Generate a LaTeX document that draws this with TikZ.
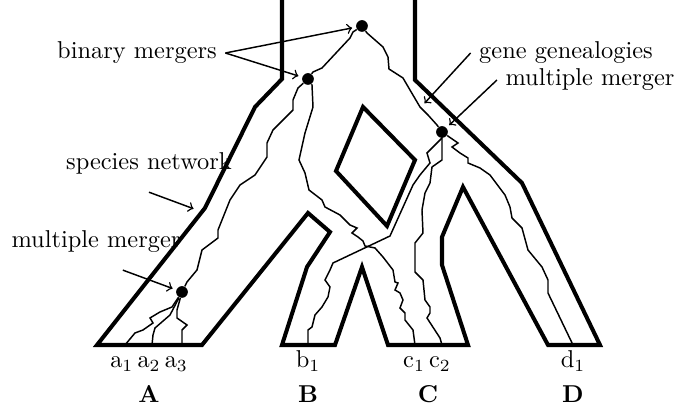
\documentclass[tikz,border=0pt]{standalone}
\usetikzlibrary{positioning}
\begin{document}
\begin{tikzpicture}[x=0.41pt,y=-0.41pt,
    species/.style={line width=1.65pt},
    gene/.style={line width=0.6pt},
    note/.style={->,line width=0.6pt,shorten >=1.5pt},
    merger/.style={circle,fill,inner sep=0pt,minimum size=4.8pt}]
  \useasboundingbox (0,0) rectangle (677,410);

  % species network
  \draw[species] (282,0) -- (282,79) -- (255,107) -- (205,208) -- (97,345) -- (202,345)
    -- (308,213) -- (330,232) -- (307,267) -- (282,345) -- (335,345) -- (362,267)
    -- (388,345) -- (468,345) -- (442,265) -- (442,237) -- (463,187) -- (548,345)
    -- (600,345) -- (522,183) -- (415,80) -- (415,0);
  \draw[species] (363,107) -- (415,160) -- (387,226) -- (336,171) -- cycle;

  % mergers and tips
  \node[merger] (root) at (362,26) {};
  \node[merger] (bin) at (308,79) {};
  \node[merger] (mmA) at (182,292) {};
  \node[merger] (mmC) at (442,132) {};
  \coordinate (a1) at (125,345);
  \coordinate (a2) at (152,345);
  \coordinate (a3) at (182,345);
  \coordinate (b1) at (308,345);
  \coordinate (c1) at (415,345);
  \coordinate (c2) at (442,345);
  \coordinate (d1) at (573,345);

  % gene genealogies
  \draw[gene] (root) -- (353,32) -- (350,38) -- (322,68) -- (313,72) -- (bin);
  \draw[gene] (root) -- (367,33) -- (383,47) -- (388,57) -- (389,69) -- (403,78)
    -- (410,90) -- (420,107) -- (428,115) -- (437,125) -- (mmC);
  \draw[gene] (bin) -- (298,88) -- (293,100) -- (293,110) -- (273,130) -- (267,143)
    -- (267,157) -- (255,175) -- (240,185) -- (230,200) -- (218,230) -- (218,238)
    -- (202,250) -- (197,270) -- (187,282) -- (mmA);
  \draw[gene] (bin) -- (312,85) -- (313,107) -- (305,133) -- (299,160) -- (305,173)
    -- (309,190) -- (322,200) -- (325,207) -- (340,215) -- (350,225) -- (357,228)
    -- (352,233) -- (358,237) -- (363,241) -- (365,246) -- (375,248) -- (383,257)
    -- (393,270) -- (395,282) -- (398,283) -- (395,290) -- (400,293) -- (403,300)
    -- (400,308) -- (405,313) -- (405,320) -- (413,330) -- (c1);
  \draw[gene] (mmC) -- (442,138) -- (427,153) -- (430,163) -- (420,175) -- (413,185)
    -- (390,236) -- (333,263) -- (330,270) -- (325,280) -- (330,287) -- (328,297)
    -- (322,307) -- (315,315) -- (312,327) -- (308,330) -- (b1);
  \draw[gene] (mmC) -- (442,160) -- (432,167) -- (430,183) -- (425,193) -- (422,210)
    -- (423,233) -- (415,243) -- (415,272) -- (423,280) -- (425,300) -- (430,307)
    -- (430,313) -- (427,318) -- (440,338) -- (c2);
  \draw[gene] (mmC) -- (458,143) -- (452,147) -- (460,153) -- (468,158) -- (468,163)
    -- (480,168) -- (490,175) -- (505,195) -- (510,207) -- (512,218) -- (522,228)
    -- (528,250) -- (542,267) -- (548,280) -- (548,293) -- (d1);
  \draw[gene] (mmA) -- (172,307) -- (160,312) -- (150,318) -- (153,323) -- (143,330)
    -- (135,333) -- (a1);
  \draw[gene] (mmA) -- (170,315) -- (155,328) -- (153,335) -- (a2);
  \draw[gene] (mmA) -- (177,310) -- (177,318) -- (187,325) -- (182,330) -- (a3);

  % annotations
  \node (bm) at (137,53) {binary mergers};
  \node (gg) at (566,53) {gene genealogies};
  \node (mmr) at (590,80) {multiple merger};
  \node (sn) at (149,163) {species network};
  \node (mml) at (96,242) {multiple merger};
  \coordinate (ggtip) at (422,106);
  \coordinate (sntip) at (197,210);
  \draw[note] (bm.east) -- (root);
  \draw[note] (bm.east) -- (bin);
  \draw[note] (gg.west) -- (ggtip);
  \draw[note] (mmr.west) -- (mmC);
  \draw[note] ([yshift=-4pt]sn.south) -- (sntip);
  \draw[note] ([xshift=11pt,yshift=-3.5pt]mml.south) -- (mmA);

  % labels
  \node[anchor=base] (la) at (149,368) {$\mathrm{a}_1\,\mathrm{a}_2\,\mathrm{a}_3$};
  \node[anchor=base] (lb) at (308,368) {$\mathrm{b}_1$};
  \node[anchor=base] (lc) at (427,368) {$\mathrm{c}_1\,\mathrm{c}_2$};
  \node[anchor=base] (ld) at (573,368) {$\mathrm{d}_1$};
  \node[anchor=base] (sA) at (149,403) {\textbf{A}};
  \node[anchor=base] (sB) at (308,403) {\textbf{B}};
  \node[anchor=base] (sC) at (428,403) {\textbf{C}};
  \node[anchor=base] (sD) at (573,403) {\textbf{D}};
\end{tikzpicture}
\end{document}
